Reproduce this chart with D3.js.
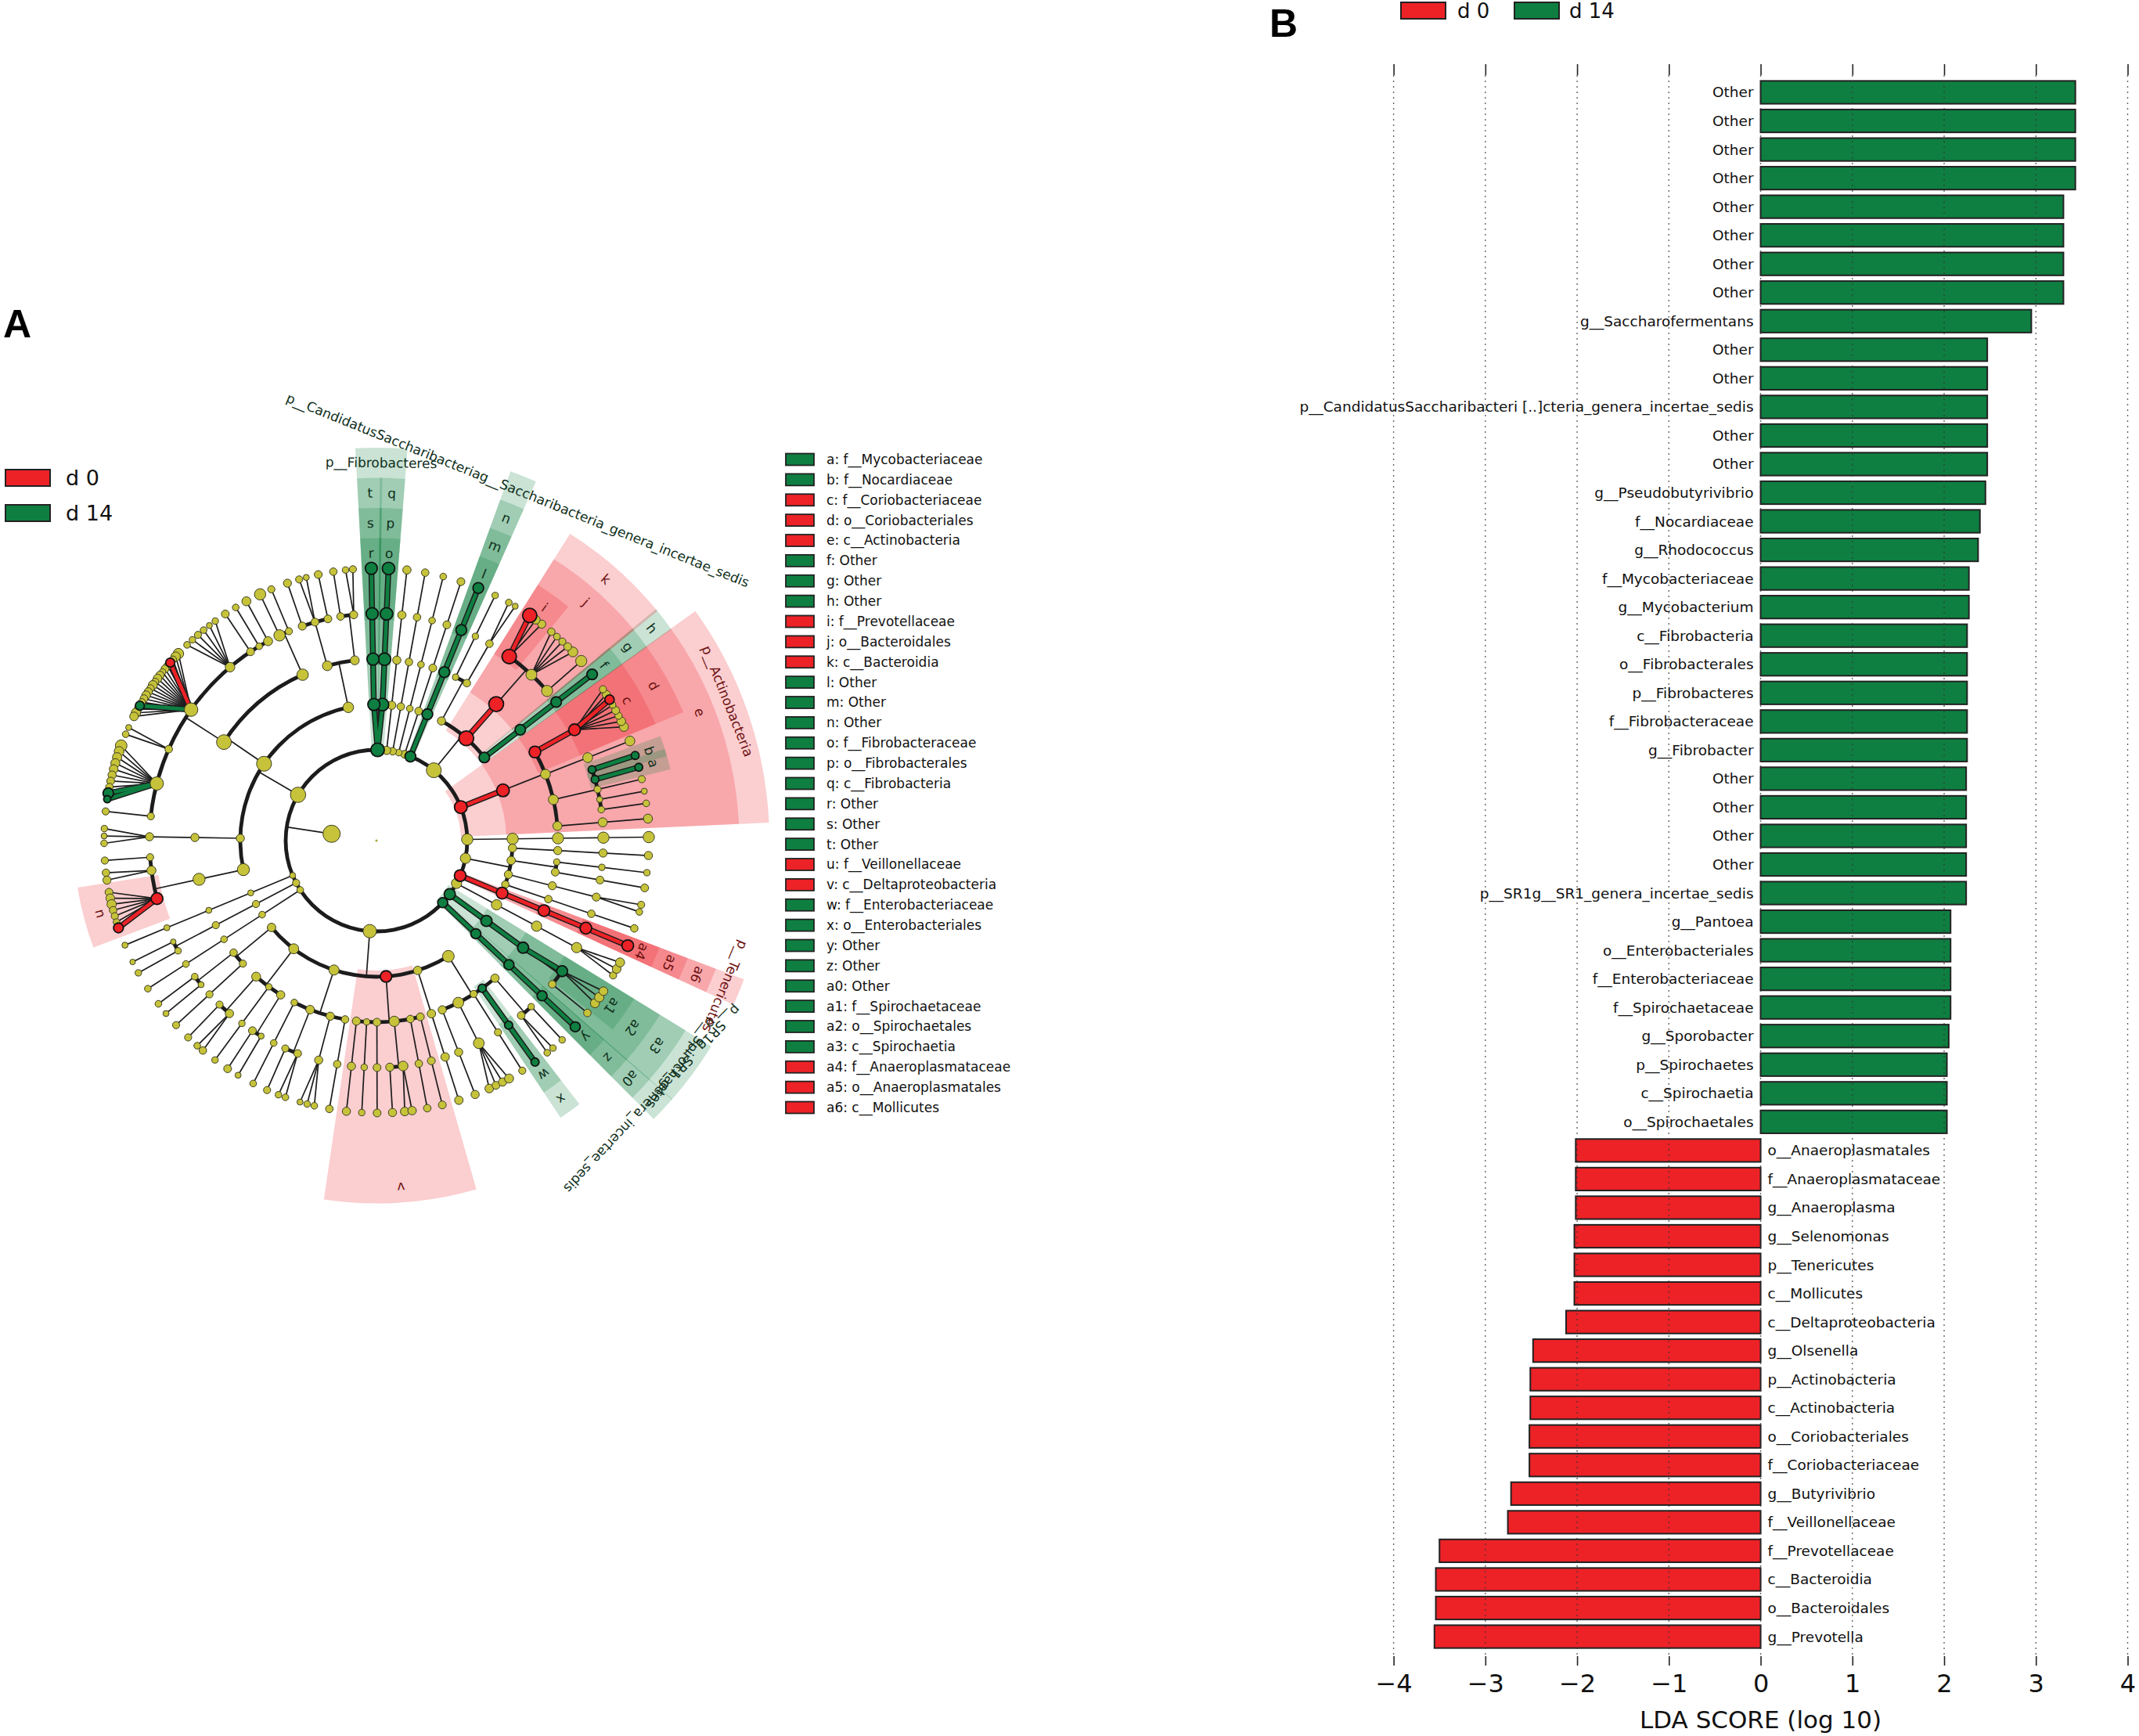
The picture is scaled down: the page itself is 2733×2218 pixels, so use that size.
<!DOCTYPE html>
<html>
<head>
<meta charset="utf-8">
<script src="https://cdn.jsdelivr.net/npm/d3@7"></script>
<style>
body { margin: 0; background: #fff; }
svg { display: block; font-family: "DejaVu Sans", sans-serif; }
</style>
</head>
<body>
<svg id="chart" width="2733" height="2218"></svg>
<script>
// ---------- data: LDA scores (panel B) ----------
const featureNames = [
  "Other", "Other", "Other", "Other", "Other", "Other", "Other", "Other",
  "g__Saccharofermentans", "Other", "Other",
  "p__CandidatusSaccharibacteri [..]cteria_genera_incertae_sedis",
  "Other", "Other", "g__Pseudobutyrivibrio", "f__Nocardiaceae", "g__Rhodococcus",
  "f__Mycobacteriaceae", "g__Mycobacterium", "c__Fibrobacteria", "o__Fibrobacterales",
  "p__Fibrobacteres", "f__Fibrobacteraceae", "g__Fibrobacter",
  "Other", "Other", "Other", "Other", "p__SR1g__SR1_genera_incertae_sedis",
  "g__Pantoea", "o__Enterobacteriales", "f__Enterobacteriaceae", "f__Spirochaetaceae",
  "g__Sporobacter", "p__Spirochaetes", "c__Spirochaetia", "o__Spirochaetales",
  "o__Anaeroplasmatales", "f__Anaeroplasmataceae", "g__Anaeroplasma", "g__Selenomonas",
  "p__Tenericutes", "c__Mollicutes", "c__Deltaproteobacteria", "g__Olsenella",
  "p__Actinobacteria", "c__Actinobacteria", "o__Coriobacteriales", "f__Coriobacteriaceae",
  "g__Butyrivibrio", "f__Veillonellaceae", "f__Prevotellaceae", "c__Bacteroidia",
  "o__Bacteroidales", "g__Prevotella"
];
const featureGroups = d3.range(55).map(i => i < 37 ? "d 14" : "d 0");
const featureLDA = [
  3.43, 3.43, 3.43, 3.43, 3.30, 3.30, 3.30, 3.30, 2.95, 2.47, 2.47, 2.47, 2.47, 2.47,
  2.45, 2.39, 2.37, 2.27, 2.27, 2.25, 2.25, 2.25, 2.25, 2.25, 2.24, 2.24, 2.24, 2.24, 2.24,
  2.07, 2.07, 2.07, 2.07, 2.05, 2.03, 2.03, 2.03,
  2.015, 2.015, 2.015, 2.03, 2.03, 2.03, 2.12, 2.48, 2.51, 2.51, 2.52, 2.52,
  2.72, 2.755, 3.50, 3.54, 3.54, 3.555
];

// ---------- data: cladogram (panel A) ----------
const groups = ["d 0", "d 14"];
const letterCodes = ["a", "b", "c", "d", "e", "f", "g", "h", "i", "j", "k", "l", "m", "n", "o", "p",
  "q", "r", "s", "t", "u", "v", "w", "x", "y", "z", "a0", "a1", "a2", "a3", "a4", "a5", "a6"];
const letterNames = ["f__Mycobacteriaceae", "f__Nocardiaceae", "f__Coriobacteriaceae",
  "o__Coriobacteriales", "c__Actinobacteria", "Other", "Other", "Other", "f__Prevotellaceae",
  "o__Bacteroidales", "c__Bacteroidia", "Other", "Other", "Other", "f__Fibrobacteraceae",
  "o__Fibrobacterales", "c__Fibrobacteria", "Other", "Other", "Other", "f__Veillonellaceae",
  "c__Deltaproteobacteria", "f__Enterobacteriaceae", "o__Enterobacteriales", "Other", "Other",
  "Other", "f__Spirochaetaceae", "o__Spirochaetales", "c__Spirochaetia", "f__Anaeroplasmataceae",
  "o__Anaeroplasmatales", "c__Mollicutes"];
const letterGroups = ["d 14", "d 14", "d 0", "d 0", "d 0", "d 14", "d 14", "d 14", "d 0", "d 0",
  "d 0", "d 14", "d 14", "d 14", "d 14", "d 14", "d 14", "d 14", "d 14", "d 14", "d 0", "d 0",
  "d 14", "d 14", "d 14", "d 14", "d 14", "d 14", "d 14", "d 14", "d 0", "d 0", "d 0"];

// phylum -> class -> order -> family -> genus ; node = [tag, ...children], leaf = abundance
// tag: "" plain, "R"/"G" biomarker without letter, or a letter code from letterCodes
const phylumLabels = ["", "p__Actinobacteria", "",
  "p__CandidatusSaccharibacteriag__Saccharibacteria_genera_incertae_sedis", "", "", "", "",
  "p__Fibrobacteres", "", "", "", "", "", "p__SR1g__SR1_genera_incertae_sedis",
  "p__Spirochaetes", "", "p__Tenericutes", ""];
const phylumTrees = [
  ["", ["", ["", ["", 100]]]],
  ["R", ["e",
    ["", ["", 25]],
    ["", ["", 6], ["", 4], ["", 8], ["a", "G:12"], ["b", "G:12"]],
    ["", ["", 40]],
    ["d", ["c", 25, 20, 8, 12, 5, "R:30", 15, 8]]]],
  ["", ["h", ["g", ["f", "G:60"]]],
    ["k", ["j", ["", 90], ["", 40, 12, 8, 6, 10], ["i", 15, 20, "R:600"]]],
    ["", ["", ["", 4, 6]], ["", ["", 5]]]],
  ["G", ["n", ["m", ["l", "G:70"]]]],
  ["", ["", ["", ["", 12]]]],
  ["", ["", ["", ["", 6]]]],
  ["", ["", ["", ["", 10]]]],
  ["", ["", ["", ["", 16]]]],
  ["G", ["q", ["p", ["o", "G:200"]]], ["t", ["s", ["r", "G:160"]]]],
  ["",
    ["", ["", ["", 8, 5], ["", 10]], ["", ["", 12], ["", 4, 8], ["", 14]]],
    ["",
      ["", ["", 8], ["", 100]],
      ["", ["", 25], ["", 6], ["", 12],
        ["", 5, 4, 6, 8, 5, 6],
        ["", 60, 30, 8, "R:25", 10, 12, 6, 15, 20, 8, 25, 10, 15, 20, 12, 8, "G:25", 10, 30, 20],
        ["", 4, 6],
        ["", 120, 40, 30, 25, 20, 15, 12, 10, "G:60", "G:8"],
        ["", 8]]],
    ["", ["", ["", 5, 4, 6]]],
    ["", ["", ["", 8], ["", 10, 15], ["u", 12, 20, 30, 10, 8, 6, "R:40"]]]],
  ["", ["", ["", ["", 4]]]],
  ["", ["", ["", ["", 3], ["", 5]]]],
  ["", ["", ["", ["", 6]]]],
  ["",
    ["", ["", ["", 6], ["", 4]], ["", ["", 8]]],
    ["", ["", ["", 8], ["", 6, 10]], ["", ["", 5]], ["", ["", 12], ["", 4]]],
    ["", ["", ["", 6]], ["", ["", 8], ["", 5, 6]], ["", ["", 4, 5, 6]], ["", ["", 10]]],
    ["v", ["", ["", 15]], ["", ["", 5]], ["", ["", 12]], ["", ["", 15], ["", 20, 18]],
      ["", ["", 10]], ["", ["", 12]]],
    ["", ["", ["", 18]]],
    ["", ["", ["", 15]], ["", ["", 20, 12, 15, 25]], ["", ["", 8]], ["x", ["w", "G:14"]],
      ["", ["", 6, 5], ["", 5]]]],
  ["G", ["a0", ["z", ["y", "G:45"]]]],
  ["G", ["a3", ["a2", ["", 10], ["a1", 25, 30, 20]]]],
  ["", ["", ["", ["", 8, 20, 25]]]],
  ["R", ["a6", ["a5", ["a4", "R:120"]]]],
  ["", ["", ["", ["", 10]]], ["", ["", ["", 6, 8]]], ["", ["", ["", 12]], ["", ["", 5]]],
    ["", ["", ["", 15]]]]
];

// ---------- styles ----------
const palette = {"d 0": "#ec2227", "d 14": "#0e7f41"};
const inkDark = {"d 0": "#6e1212", "d 14": "#10301c"};
const yellow = "#c6c33a";
const ink = "#1c1c1c";

const svg = d3.select("#chart");
svg.append("rect").attr("width", 2733).attr("height", 2218).attr("fill", "#fff");

function groupOf(tag) {
  if (!tag) return null;
  if (tag === "R") return "d 0";
  if (tag === "G") return "d 14";
  const i = letterCodes.indexOf(tag);
  return i >= 0 ? letterGroups[i] : null;
}

function toNode(d) {
  if (Array.isArray(d)) return {tag: d[0], children: d.slice(1).map(toNode)};
  if (typeof d === "string") {
    const p = d.split(":");
    return {tag: p[0], abundance: +p[1]};
  }
  return {tag: "", abundance: d};
}

// ================= Panel A : cladogram =================
const kingdom = {tag: "", children: phylumTrees.map((t, i) => Object.assign(toNode(t), {label: phylumLabels[i]}))};
const root = d3.hierarchy({tag: "", children: [kingdom]}).sum(d => d.abundance || 0);

function lca(a, b) {
  while (a.depth > b.depth) a = a.parent;
  while (b.depth > a.depth) b = b.parent;
  while (a !== b) { a = a.parent; b = b.parent; }
  return a;
}
const sepByLca = [1.5, 1.5, 1.4, 1.25, 1.0];
d3.cluster()
  .size([360, 1])
  .separation((a, b) => {
    const d = lca(a, b).depth;
    if (d >= 5) {
      const n = a.parent.children.length;
      return n <= 6 ? 0.6 : n <= 10 ? 0.5 : 0.33;
    }
    return sepByLca[d];
  })(root);
const angleOffset = -1.2;
root.leaves().forEach(l => { l.x += angleOffset; });
root.eachAfter(n => { if (n.children) n.x = d3.mean(n.leaves(), l => l.x); });

const cx = 481, cy = 1074;
const levelR = d3.scaleLinear().domain([0, 6]).range([0, 348]);
const toRad = d3.scaleLinear().domain([0, 360]).range([0, 2 * Math.PI]);
const bandW = 38.5;
const outerR = depth => levelR(6) + (6 - depth) * bandW;
const nodeR = d3.scaleLog().domain([1, root.value]).range([2.4, 11]).clamp(true);

function pt(theta, r) {
  const a = toRad(theta);
  return [r * Math.cos(a), -r * Math.sin(a)];
}
const arcGen = d3.arc();
function sector(r0, r1, t0, t1) {
  return arcGen({innerRadius: r0, outerRadius: r1,
    startAngle: Math.PI / 2 - toRad(t1), endAngle: Math.PI / 2 - toRad(t0)});
}

const gA = svg.append("g").attr("transform", `translate(${cx},${cy})`);
const gWedge = gA.append("g");
const gText = gA.append("g");
const gEdge = gA.append("g");
const gHi = gA.append("g");
const gNode = gA.append("g");

// shaded clades with letters / phylum names
const clades = root.descendants().filter(n => n.depth >= 2 && n.depth <= 5 &&
  (letterCodes.includes(n.data.tag) || n.data.label));
clades.sort((a, b) => a.depth - b.depth);
clades.forEach(n => {
  const g = groupOf(n.data.tag);
  const ext = d3.extent(n.leaves(), l => l.x);
  gWedge.append("path")
    .attr("d", sector(levelR(n.depth) - 8, outerR(n.depth), ext[0] - 2, ext[1] + 2))
    .attr("fill", palette[g])
    .attr("fill-opacity", 0.22);
  const p = pt(n.x, outerR(n.depth) - bandW / 2);
  gText.append("text")
    .attr("transform", `translate(${p[0]},${p[1]}) rotate(${90 - n.x})`)
    .attr("text-anchor", "middle")
    .attr("dy", "0.35em")
    .attr("font-size", 17)
    .attr("fill", inkDark[g])
    .text(n.data.label || n.data.tag);
});

// branches
const thin = [], rings = [], hi = [];
root.each(p => {
  if (p.depth < 1 || !p.children) return;
  const rp = levelR(p.depth), rc = levelR(p.depth + 1);
  const kids = p.children;
  if (p.depth === 5) kids.forEach(c => thin.push([pt(p.x, rp), pt(c.x, rc)]));
  else if (kids.length === 1) thin.push([pt(p.x, rp), pt(kids[0].x, rc)]);
  else {
    thin.push([pt(p.x, rp), pt(p.x, rc)]);
    if (p.depth === 1) rings.push([rc, 0, 360]);
    else rings.push([rc, d3.min(kids, c => c.x), d3.max(kids, c => c.x)]);
  }
  kids.forEach(c => {
    const g = groupOf(c.data.tag);
    if (!g) return;
    if (p.depth === 5 || kids.length === 1 || (groupOf(p.data.tag) && Math.abs(p.x - c.x) < 2.5))
      hi.push({a: pt(p.x, rp), b: pt(c.x, rc), g: g});
  });
});

gEdge.selectAll("path.ring").data(rings).enter().append("path")
  .attr("class", "ring")
  .attr("d", d => sector(d[0] - 2.4, d[0] + 2.4, d[1], d[2]))
  .attr("fill", ink);
gEdge.selectAll("line").data(thin).enter().append("line")
  .attr("x1", d => d[0][0]).attr("y1", d => d[0][1])
  .attr("x2", d => d[1][0]).attr("y2", d => d[1][1])
  .attr("stroke", ink).attr("stroke-width", 1.7);

gHi.selectAll("line.under").data(hi).enter().append("line")
  .attr("class", "under")
  .attr("x1", d => d.a[0]).attr("y1", d => d.a[1])
  .attr("x2", d => d.b[0]).attr("y2", d => d.b[1])
  .attr("stroke", ink).attr("stroke-width", 7.5);
gHi.selectAll("line.over").data(hi).enter().append("line")
  .attr("class", "over")
  .attr("x1", d => d.a[0]).attr("y1", d => d.a[1])
  .attr("x2", d => d.b[0]).attr("y2", d => d.b[1])
  .attr("stroke", d => palette[d.g]).attr("stroke-width", 4.6);

// nodes
const nodes = root.descendants().filter(n => n.depth >= 1);
nodes.sort((a, b) => (groupOf(a.data.tag) ? 1 : 0) - (groupOf(b.data.tag) ? 1 : 0));
gNode.selectAll("circle").data(nodes).enter().append("circle")
  .attr("cx", d => pt(d.x, levelR(d.depth))[0])
  .attr("cy", d => pt(d.x, levelR(d.depth))[1])
  .attr("r", d => nodeR(d.value))
  .attr("fill", d => groupOf(d.data.tag) ? palette[groupOf(d.data.tag)] : yellow)
  .attr("stroke", d => groupOf(d.data.tag) ? "#111" : "#3d3d22")
  .attr("stroke-width", d => groupOf(d.data.tag) ? 1.8 : 1);
gNode.append("circle").attr("r", 1.6).attr("fill", "#a9a940");

// class legend of panel A
const legA = svg.append("g");
groups.forEach((g, i) => {
  legA.append("rect").attr("x", 7).attr("y", 600 + i * 45).attr("width", 57).attr("height", 21)
    .attr("fill", palette[g]).attr("stroke", "#222").attr("stroke-width", 2);
  legA.append("text").attr("x", 84).attr("y", 611 + i * 45).attr("dy", "0.35em")
    .attr("font-size", 27).attr("fill", "#111").text(g);
});

// letter key
const keyY = d3.scalePoint().domain(letterCodes).range([587, 1415]);
const key = svg.append("g");
letterCodes.forEach((c, i) => {
  key.append("rect").attr("x", 1004).attr("y", keyY(c) - 7.5).attr("width", 36).attr("height", 15)
    .attr("fill", palette[letterGroups[i]]).attr("stroke", "#222").attr("stroke-width", 1.8);
  key.append("text").attr("x", 1056).attr("y", keyY(c)).attr("dy", "0.35em")
    .attr("font-size", 17).attr("fill", "#111").text(`${c}: ${letterNames[i]}`);
});

svg.append("text").attr("x", 4).attr("y", 431)
  .attr("font-family", "Liberation Sans, Arial, sans-serif").attr("font-weight", "bold")
  .attr("font-size", 50).text("A");

// ================= Panel B : LDA bars =================
const gB = svg.append("g");
const xLDA = d3.scaleLinear().domain([-4, 4]).range([1780.6, 2718.5]);
const yLDA = d3.scaleBand().domain(d3.range(featureNames.length))
  .range([99.7, 2109.3]).paddingInner(0.2).paddingOuter(0.1);
const signed = i => featureGroups[i] === "d 0" ? -featureLDA[i] : featureLDA[i];

gB.selectAll("rect.bar").data(d3.range(featureNames.length)).enter().append("rect")
  .attr("class", "bar")
  .attr("x", i => xLDA(Math.min(0, signed(i))))
  .attr("width", i => Math.abs(xLDA(signed(i)) - xLDA(0)))
  .attr("y", i => yLDA(i))
  .attr("height", yLDA.bandwidth())
  .attr("fill", i => palette[featureGroups[i]])
  .attr("stroke", "#222").attr("stroke-width", 2);

gB.selectAll("line.grid").data(d3.range(-4, 5)).enter().append("line")
  .attr("class", "grid")
  .attr("x1", d => xLDA(d)).attr("x2", d => xLDA(d))
  .attr("y1", 96).attr("y2", 2116)
  .attr("stroke", "#333").attr("stroke-opacity", 0.75)
  .attr("stroke-width", 1.4).attr("stroke-dasharray", "2,5");

gB.selectAll("text.feat").data(d3.range(featureNames.length)).enter().append("text")
  .attr("class", "feat")
  .attr("x", i => signed(i) > 0 ? xLDA(0) - 9 : xLDA(0) + 9)
  .attr("y", i => yLDA(i) + yLDA.bandwidth() / 2)
  .attr("dy", "0.35em")
  .attr("text-anchor", i => signed(i) > 0 ? "end" : "start")
  .attr("font-size", 18.5).attr("fill", "#111")
  .text(i => featureNames[i]);

const axBottom = gB.append("g").attr("transform", "translate(0,2116)")
  .call(d3.axisBottom(xLDA).tickValues(d3.range(-4, 5)).tickSize(12).tickPadding(11)
    .tickFormat(d3.format("d")));
const axTop = gB.append("g").attr("transform", "translate(0,96)")
  .call(d3.axisTop(xLDA).tickValues(d3.range(-4, 5)).tickSize(14).tickFormat(""));
[axBottom, axTop].forEach(ax => {
  ax.select(".domain").remove();
  ax.selectAll(".tick line").attr("stroke", "#222").attr("stroke-width", 1.6);
});
axBottom.selectAll(".tick text")
  .attr("font-family", "DejaVu Sans, sans-serif").attr("font-size", 32).attr("fill", "#111");

gB.append("text").attr("x", xLDA(0)).attr("y", 2208).attr("text-anchor", "middle")
  .attr("font-size", 31).attr("fill", "#111").text("LDA SCORE (log 10)");

// legend of panel B
groups.forEach((g, i) => {
  gB.append("rect").attr("x", 1790 + i * 145).attr("y", 3).attr("width", 57).attr("height", 21)
    .attr("fill", palette[g]).attr("stroke", "#222").attr("stroke-width", 2);
  gB.append("text").attr("x", 1862 + i * 143).attr("y", 14).attr("dy", "0.35em")
    .attr("font-size", 26).attr("fill", "#111").text(g);
});

svg.append("text").attr("x", 1622).attr("y", 47)
  .attr("font-family", "Liberation Sans, Arial, sans-serif").attr("font-weight", "bold")
  .attr("font-size", 50).text("B");
</script>
</body>
</html>
